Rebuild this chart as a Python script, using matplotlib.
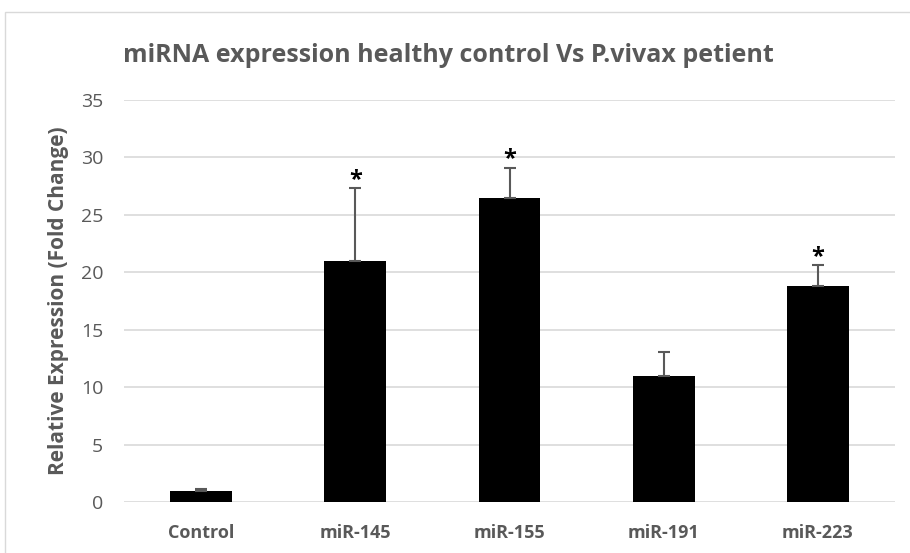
import matplotlib
matplotlib.use("Agg")
import matplotlib.pyplot as plt
from matplotlib.patches import Rectangle

# values
categories = ["Control", "miR-145", "miR-155", "miR-191", "miR-223"]
values = [1.0, 21.0, 26.5, 11.0, 18.8]
errors = [0.1, 6.3, 2.6, 2.05, 1.8]
significant = [False, True, True, False, True]

gray = "#595959"
plt.rcParams['font.family'] = ['Open Sans', 'DejaVu Sans']

fig = plt.figure(figsize=(9.1, 5.53), dpi=100)
ax = fig.add_axes([0.1363, 0.0922, 0.8472, 0.727])

# light frame around the whole chart, like the spreadsheet export
fig.patches.append(Rectangle((0.0055, -0.01), 1.0, 0.988, transform=fig.transFigure,
                             fill=False, edgecolor="#d9d9d9", linewidth=1))

x = range(len(categories))
ax.bar(x, values, width=0.4, color="black", zorder=3)
ax.errorbar(x, values, yerr=[[0] * len(errors), errors], fmt="none",
            ecolor=gray, elinewidth=1.5, capsize=4.5, capthick=1.5, zorder=4)

for i in x:
    if significant[i]:
        ax.text(i, values[i] + errors[i] - 0.3, "*", ha="center", va="bottom",
                fontsize=17, fontweight="bold", color="black")

ax.set_xlim(-0.5, len(categories) - 0.5)
ax.set_ylim(0, 35)
ax.set_yticks(range(0, 36, 5))
ax.set_xticks(list(x))
ax.set_xticklabels(categories, fontweight="bold")
ax.grid(axis="y", color="#d9d9d9", linewidth=1.2, zorder=0)
for s in ax.spines.values():
    s.set_visible(False)
ax.tick_params(axis="both", length=0, colors=gray, labelsize=14)
ax.tick_params(axis="x", pad=16, labelsize=13)
ax.tick_params(axis="y", pad=15)

ax.set_ylabel("Relative Expression (Fold Change)", fontsize=15, fontweight="bold",
              color=gray)
ax.yaxis.set_label_coords(-0.071, 0.5)
fig.text(0.135, 0.9, "miRNA expression healthy control Vs P.vivax petient",
         fontsize=18, fontweight="bold", color=gray, ha="left", va="center")

fig.savefig("out.png", dpi=100)
